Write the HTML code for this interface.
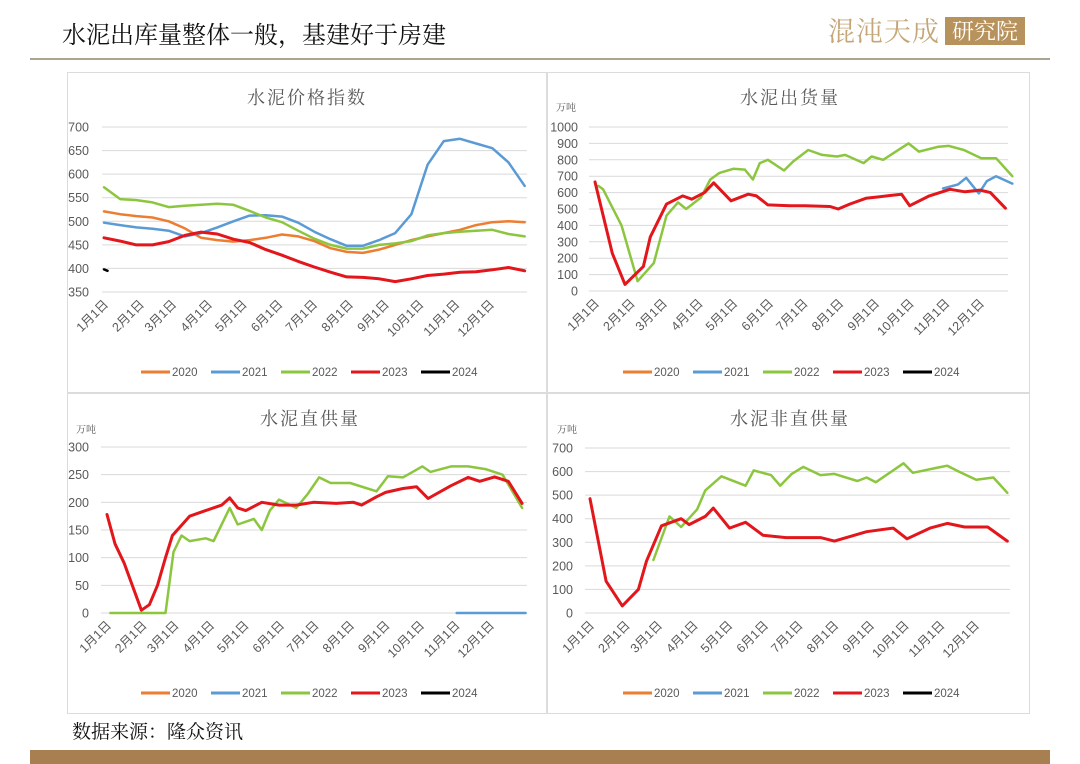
<!DOCTYPE html>
<html><head><meta charset="utf-8"><style>
html,body{margin:0;padding:0;background:#fff;}
svg{display:block;font-family:"Liberation Sans","Noto Sans CJK SC",sans-serif;}
</style></head><body>
<svg id="s" width="1080" height="764" viewBox="0 0 1080 764" xmlns="http://www.w3.org/2000/svg">
<rect x="0" y="0" width="1080" height="764" fill="#fff"/>
<text x="62" y="43" font-size="24" fill="#111" font-family="'Noto Serif CJK SC',serif">水泥出库量整体一般，基建好于房建</text>
<text x="828" y="41" font-size="27" fill="#c4a678" font-family="'Noto Serif CJK SC',serif" letter-spacing="1">混沌天成</text>
<rect x="945" y="17" width="80" height="28" fill="#b8925c"/>
<text x="985" y="39" font-size="22" fill="#fff" text-anchor="middle" font-family="'Noto Serif CJK SC',serif">研究院</text>
<rect x="30" y="58" width="1020" height="2" fill="#a9a590"/>
<rect x="67.5" y="72.5" width="479" height="320" fill="#fff" stroke="#dcdcdc"/>
<rect x="547.5" y="72.5" width="482" height="320" fill="#fff" stroke="#dcdcdc"/>
<rect x="67.5" y="393.5" width="479" height="320" fill="#fff" stroke="#dcdcdc"/>
<rect x="547.5" y="393.5" width="482" height="320" fill="#fff" stroke="#dcdcdc"/>
<text x="72" y="738" font-size="19" fill="#111" font-family="'Noto Serif CJK SC',serif">数据来源：隆众资讯</text>
<rect x="30" y="750" width="1020" height="14" fill="#a87f50"/>
<g id="charts"></g>
</svg>
<script>
const monthDays=[0,31,59,90,120,151,181,212,243,273,304,334];
const monthLabels=["1月1日","2月1日","3月1日","4月1日","5月1日","6月1日","7月1日","8月1日","9月1日","10月1日","11月1日","12月1日"];
const legendYears=["2020","2021","2022","2023","2024"];
const COL={"2020":"#ed7d31","2021":"#5b9bd5","2022":"#8cc63f","2023":"#e3161b","2024":"#000"};

// chart 1: price index
const c1Days=[0,14,28,42,56,70,84,98,112,126,140,154,168,182,196,210,224,238,252,266,280,294,308,322,336,350,364];
const c1V2020=[521,515,511,508,500,485,465,460,457,460,465,472,468,458,443,435,433,440,450,460,468,475,482,492,498,500,498];
const c1V2021=[497,492,487,484,480,468,475,487,500,512,513,510,497,478,462,448,448,460,475,515,620,670,675,665,655,625,575];
const c1V2022=[572,547,545,540,530,533,535,537,535,522,508,498,480,463,450,442,442,450,453,458,470,475,478,480,482,473,468];
const c1V2023=[465,458,450,450,457,470,477,473,462,455,440,428,415,403,392,382,381,378,372,378,385,388,392,393,397,402,395];
const c1D2024=[0,3];
const c1V2024=[398,395];
const c1Ticks=[350,400,450,500,550,600,650,700];

// chart 2: shipments
const c2RedDays=[0,15,26,42,48,62,76,84,95,103,118,133,140,150,169,182,204,211,221,235,247,266,273,290,308,321,334,343,356];
const c2RedVals=[665,230,40,150,330,530,580,560,600,660,550,590,580,525,520,520,515,500,530,565,575,590,520,580,620,605,615,600,505];
const c2GreenDays=[3,7,23,37,51,62,72,79,92,100,108,120,130,137,143,150,164,172,185,197,210,217,233,240,250,262,272,281,298,307,320,335,348,362];
const c2GreenVals=[640,620,400,60,170,460,540,500,570,680,720,745,740,680,780,800,735,790,860,830,820,830,780,820,800,855,900,850,880,885,860,810,810,700];
const c2BlueDays=[302,315,322,333,340,348,362];
const c2BlueVals=[625,650,690,595,670,700,655];
const c2Ticks=[0,100,200,300,400,500,600,700,800,900,1000];

// chart 3: direct supply
const c3RedDays=[0,7,15,30,37,44,51,57,72,86,100,107,114,121,135,150,165,180,200,215,222,235,243,258,270,280,300,315,325,338,350,362];
const c3RedVals=[178,125,90,5,15,50,100,140,175,185,195,208,190,185,200,195,195,200,198,200,195,210,218,225,228,207,230,245,238,246,238,198];
const c3GreenDays=[3,51,58,65,72,86,93,107,114,128,135,142,150,165,175,185,195,212,235,245,258,275,282,300,315,330,345,362];
const c3GreenVals=[0,0,110,140,130,135,130,190,160,170,150,185,205,190,215,245,235,235,220,247,245,265,255,265,265,260,250,190];
const c3BlueDays=[305,365];
const c3BlueVals=[0,0];
const c3Ticks=[0,50,100,150,200,250,300];

// chart 4: non-direct supply
const c4RedDays=[0,14,28,42,49,62,79,86,100,107,121,135,150,170,200,212,240,263,275,295,310,325,345,362];
const c4RedVals=[485,135,30,100,220,370,400,375,410,445,360,385,330,320,320,305,345,360,315,360,380,365,365,305];
const c4GreenDays=[55,69,79,93,100,114,135,142,157,165,175,185,200,212,232,240,248,272,280,300,310,320,335,350,362];
const c4GreenVals=[225,410,365,440,520,580,540,605,585,540,590,620,585,590,560,575,555,635,595,615,625,600,565,575,510];
const c4Ticks=[0,100,200,300,400,500,600,700];

const NS="http://www.w3.org/2000/svg";
const root=document.getElementById('charts');
function mk(tag,attrs,parent){const e=document.createElementNS(NS,tag);for(const k in attrs)e.setAttribute(k,attrs[k]);(parent||root).appendChild(e);return e;}

function chart(cfg){
  const g=mk('g',{});
  
  
  const xs=d=>cfg.x0+d*cfg.ppd;
  const ys=v=>cfg.yb-(v-cfg.vmin)*(cfg.yb-cfg.yt)/(cfg.vmax-cfg.vmin);
  const t=mk('text',{x:cfg.tx,y:cfg.ty,'font-size':18,fill:'#595959','text-anchor':'middle','font-family':"'Noto Serif CJK SC',serif",'letter-spacing':2},g);
  t.textContent=cfg.title;
  
  
  if(cfg.unit){const u=mk('text',{x:cfg.ux,y:cfg.uy,'font-size':10,fill:'#595959','font-family':"'Noto Serif CJK SC',serif"},g);u.textContent='万吨';
    
    }
  cfg.ticks.forEach(v=>{
    const y=ys(v);
    const l=mk('line',{x1:cfg.gx1,x2:cfg.gx2,y1:y,y2:y,stroke:'#d9d9d9','stroke-width':1},g);
    
    
    const tx=mk('text',{x:cfg.lx,y:y+4.5,'font-size':12.5,fill:'#595959','text-anchor':'end'},g);tx.textContent=v;
    
    
  });
  monthDays.forEach((d,i)=>{
    const x=xs(d)+5,y=cfg.yb+13;
    const tx=mk('text',{x:x,y:y,'font-size':12.5,fill:'#595959','text-anchor':'end',transform:`rotate(-45 ${x} ${y})`},g);
    tx.textContent=monthLabels[i];
    
    
  });
  cfg.series.forEach(s=>{
    const pts=s.days.map((d,i)=>xs(d).toFixed(1)+','+ys(s.vals[i]).toFixed(1)).join(' ');
    const p=mk('polyline',{points:pts,fill:'none',stroke:COL[s.year],'stroke-width':s.year==='2023'?3:2.5,'stroke-linejoin':'round','stroke-linecap':'round'},g);
    
    
  });
  legendYears.forEach((yr,i)=>{
    const lx=cfg.legx+i*70;
    const l=mk('line',{x1:lx,x2:lx+29,y1:cfg.legy,y2:cfg.legy,stroke:COL[yr],'stroke-width':3},g);
    
    
    const tx=mk('text',{x:lx+31,y:cfg.legy+4,'font-size':11.5,fill:'#595959'},g);tx.textContent=yr;
    
    
  });
}

chart({name:'price-index-chart',title:'水泥价格指数',tx:307,ty:104,x0:104,ppd:(490-104)/334,yt:127,yb:292,vmin:350,vmax:700,ticks:c1Ticks,gx1:102,gx2:527,lx:89,legx:141,legy:372,
  series:[{year:'2020',days:c1Days,vals:c1V2020},{year:'2021',days:c1Days,vals:c1V2021},{year:'2022',days:c1Days,vals:c1V2022},{year:'2023',days:c1Days,vals:c1V2023},{year:'2024',days:c1D2024,vals:c1V2024}]});
chart({name:'shipment-chart',title:'水泥出货量',tx:790,ty:104,unit:1,ux:556,uy:111,x0:595,ppd:(980-595)/334,yt:127,yb:291,vmin:0,vmax:1000,ticks:c2Ticks,gx1:589,gx2:1008,lx:578,legx:623,legy:372,
  series:[{year:'2022',days:c2GreenDays,vals:c2GreenVals},{year:'2021',days:c2BlueDays,vals:c2BlueVals},{year:'2023',days:c2RedDays,vals:c2RedVals}]});
chart({name:'direct-supply-chart',title:'水泥直供量',tx:310,ty:425,unit:1,ux:76,uy:433,x0:107,ppd:(490-107)/334,yt:447,yb:613,vmin:0,vmax:300,ticks:c3Ticks,gx1:101,gx2:527,lx:89,legx:141,legy:693,
  series:[{year:'2021',days:c3BlueDays,vals:c3BlueVals},{year:'2022',days:c3GreenDays,vals:c3GreenVals},{year:'2023',days:c3RedDays,vals:c3RedVals}]});
chart({name:'non-direct-supply-chart',title:'水泥非直供量',tx:790,ty:425,unit:1,ux:557,uy:433,x0:590,ppd:(975-590)/334,yt:448,yb:613,vmin:0,vmax:700,ticks:c4Ticks,gx1:585,gx2:1010,lx:573,legx:623,legy:693,
  series:[{year:'2022',days:c4GreenDays,vals:c4GreenVals},{year:'2023',days:c4RedDays,vals:c4RedVals}]});
</script>
</body></html>
